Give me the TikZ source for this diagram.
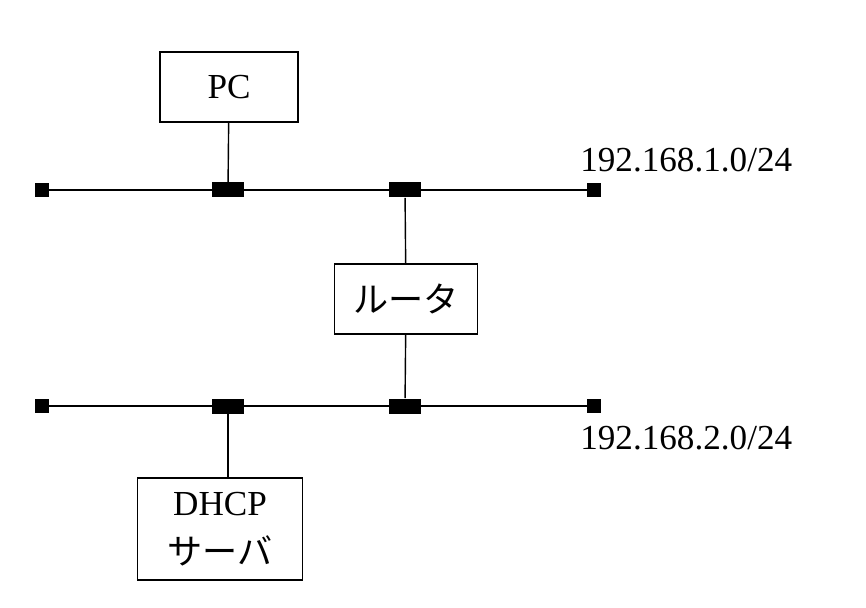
\documentclass[tikz,border=0pt]{standalone}
\usepackage{fontspec}
\setmainfont{Liberation Serif}
\newfontfamily\cjk{Noto Sans CJK JP}
\usetikzlibrary{positioning}
\begin{document}
\begin{tikzpicture}[x=0.02cm,y=-0.02cm,
    box/.style={draw,thick,minimum width=138*0.02cm,minimum height=70*0.02cm,
        font=\fontsize{20}{26}\selectfont,align=center},
    term/.style={fill=black,minimum width=14*0.02cm,minimum height=14*0.02cm,inner sep=0pt},
    tap/.style={fill=black,minimum width=32*0.02cm,minimum height=15*0.02cm,inner sep=0pt},
    net/.style={font=\fontsize{20}{24}\selectfont,anchor=west,inner sep=0pt},
    bus/.style={line width=1.6pt}, link/.style={thick}]
    \useasboundingbox (0,0) rectangle (866,608);
    % networks
    \node[term] (l1) at (42,190) {};
    \node[term] (r1) at (594,190) {};
    \node[tap] (a1) at (228,190) {};
    \node[tap] (b1) at (405,190) {};
    \node[term] (l2) at (42,406) {};
    \node[term] (r2) at (594,406) {};
    \node[tap] (a2) at (228,406) {};
    \node[tap] (b2) at (405,406) {};
    \draw[bus] (l1) -- (r1);
    \draw[bus] (l2) -- (r2);
    \node[net] (n1) at (580,160) {192.168.1.0/24};
    \node[net] (n2) at (580,438) {192.168.2.0/24};
    % hosts
    \node[box] (pc) at (229,87) {PC};
    \node[box,minimum width=143*0.02cm] (rt) at (406,299) {{\cjk ルータ}};
    \node[box,minimum width=165*0.02cm,minimum height=102*0.02cm] (dh) at (220,529) {DHCP\\[2pt]{\cjk サーバ}};
    \draw[link] (pc) -- (a1);
    \draw[link] (b1) -- (rt);
    \draw[link] (rt) -- (b2);
    \draw[link] (a2) -- (a2 |- dh.north);
\end{tikzpicture}
\end{document}
